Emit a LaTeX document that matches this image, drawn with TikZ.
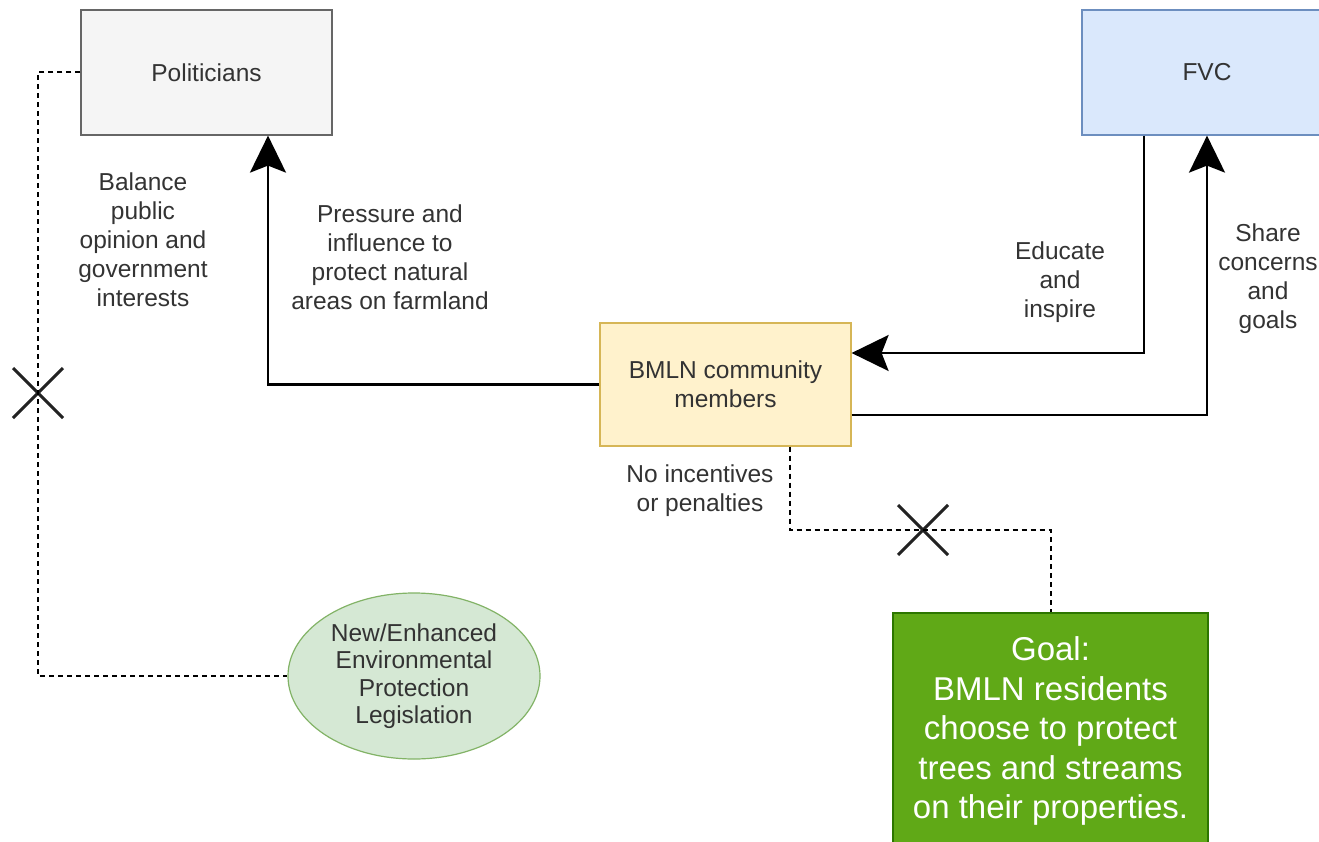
\documentclass[tikz,border=0pt]{standalone}
\usepackage{fontspec}
\setmainfont{Liberation Sans}
\usetikzlibrary{arrows.meta,shapes.geometric,shapes.misc}
\definecolor{txt}{HTML}{333333}
\definecolor{xcol}{HTML}{222222}
\definecolor{polfill}{HTML}{F5F5F5}
\definecolor{poldraw}{HTML}{666666}
\definecolor{fvcfill}{HTML}{DAE8FC}
\definecolor{fvcdraw}{HTML}{6C8EBF}
\definecolor{bmlnfill}{HTML}{FFF2CC}
\definecolor{bmlndraw}{HTML}{D6B656}
\definecolor{legfill}{HTML}{D5E8D4}
\definecolor{legdraw}{HTML}{82B366}
\definecolor{goalfill}{HTML}{60A917}
\definecolor{goaldraw}{HTML}{2D7600}
\begin{document}
\begin{tikzpicture}[x=1pt,y=-1pt,
  box/.style={draw, line width=1.2pt, text=txt, align=center, inner sep=0pt,
    font=\fontsize{24.5}{29}\selectfont},
  lbl/.style={text=txt, align=center, inner sep=0pt, font=\fontsize{24.5}{29}\selectfont},
  conn/.style={line width=2.2pt, -{Stealth[length=37pt,width=36pt,inset=7pt]}},
  dsh/.style={line width=2pt, dash pattern=on 5pt off 4pt},
  xmark/.style={cross out, draw=xcol, line width=3pt, minimum size=47pt, inner sep=0pt}]
\clip (0,0) rectangle (1319,842);
\fill[white] (0,0) rectangle (1319,842);

% boxes
\node[box, fill=polfill, draw=poldraw, minimum width=251pt, minimum height=125pt] (pol) at (206.5,72.5) {Politicians};
\node[box, fill=fvcfill, draw=fvcdraw, minimum width=250pt, minimum height=125pt] (fvc) at (1207,72.5) {FVC};
\node[box, fill=bmlnfill, draw=bmlndraw, minimum width=251pt, minimum height=123pt] (bmln) at (725.5,384.5) {BMLN community\\members};
\node[box, ellipse, fill=legfill, draw=legdraw, minimum width=252pt, minimum height=166pt,
  font=\fontsize{24.5}{27.5}\selectfont] (leg) at (414,676) {New/Enhanced\\Environmental\\Protection\\Legislation};
\node[box, fill=goalfill, draw=goaldraw, text=white, minimum width=315pt, minimum height=236pt,
  font=\fontsize{33}{39.5}\selectfont] (goal) at (1050.5,731) {Goal:\\BMLN residents\\choose to protect\\trees and streams\\on their properties.};

% labels
\node[lbl] (lbal) at (143,240) {Balance\\public\\opinion and\\government\\interests};
\node[lbl] (lpres) at (390,257) {Pressure and\\influence to\\protect natural\\areas on farmland};
\node[lbl] (ledu) at (1060,282) {Educate\\and\\inspire};
\node[lbl] (lsha) at (1268,279) {Share\\concerns\\and\\goals};
\node[lbl] (lno) at (700,491) {No incentives\\or penalties};

% cross marks
\node[xmark] (x1) at (38,393) {};
\node[xmark] (x2) at (923,530) {};

% connectors
\draw[conn] (bmln.west) -| ([xshift=61.5pt]pol.south);
\draw[conn] ([xshift=-63pt]fvc.south) |- ([yshift=31.5pt]bmln.east);
\draw[conn] ([yshift=-30.5pt]bmln.east) -| (fvc.south);

% dashed links
\draw[dsh] (pol.west) -| (x1.center) |- (leg.west);
\draw[dsh] ([xshift=64.5pt]bmln.south) |- (x2.center) -| (goal.north);
\end{tikzpicture}
\end{document}
